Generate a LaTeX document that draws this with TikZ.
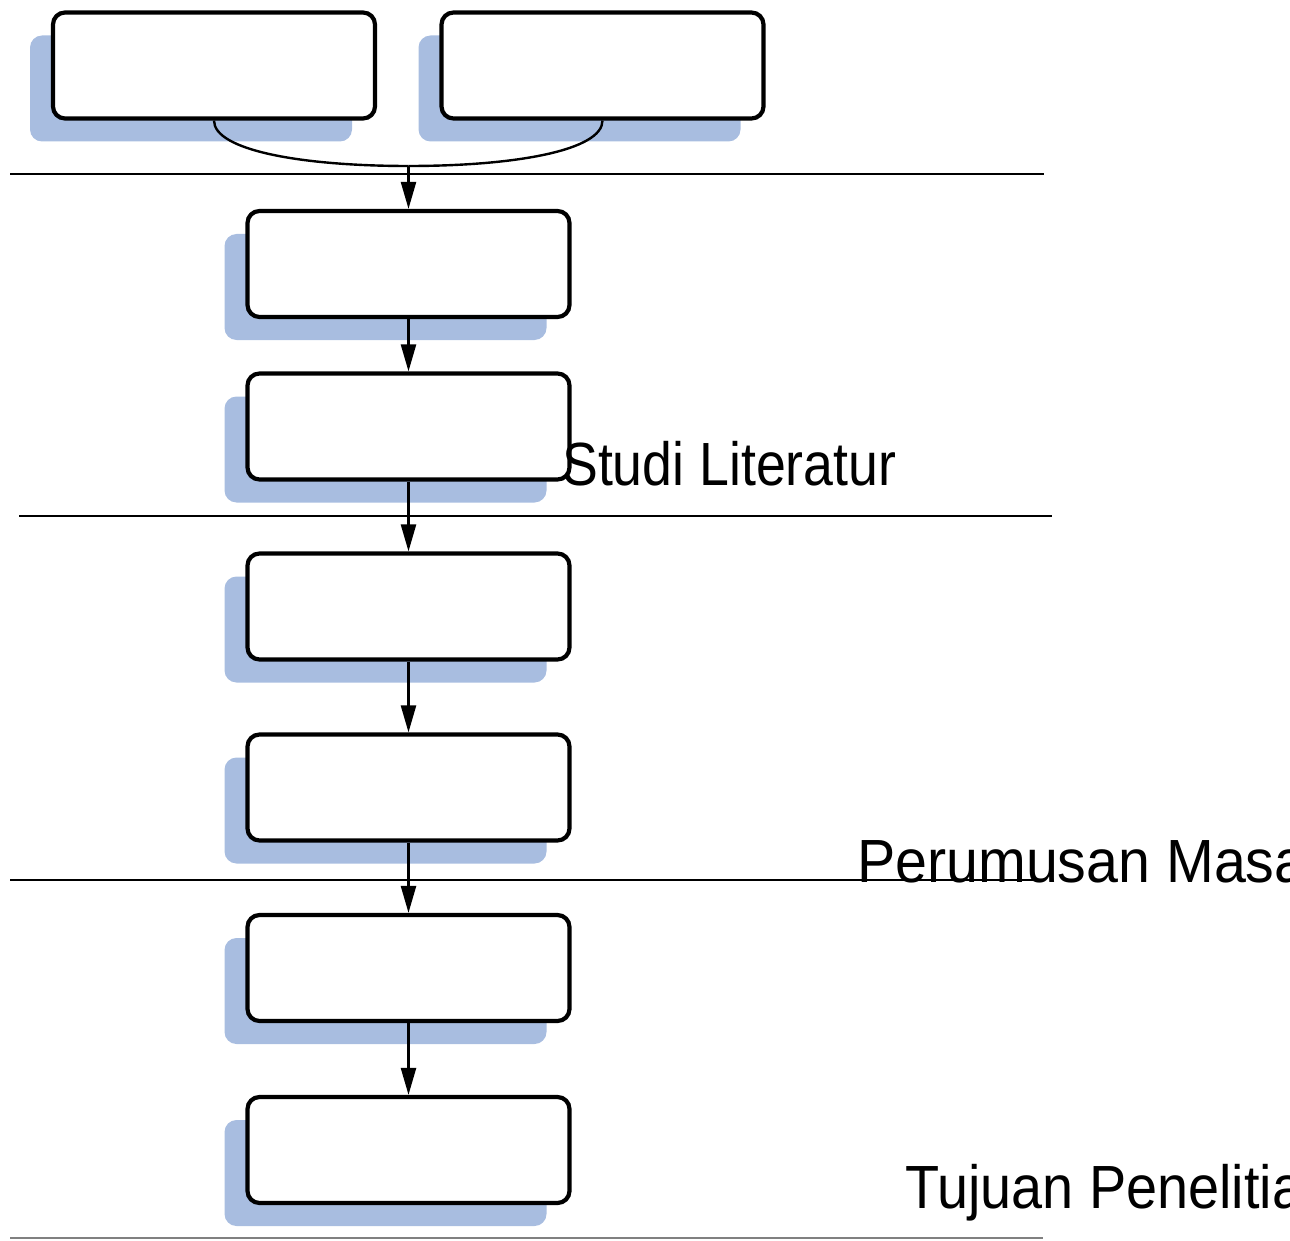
\documentclass[tikz,border=0pt]{standalone}
\usepackage{fontspec}
\setmainfont{Liberation Sans}
\usetikzlibrary{arrows.meta,shadows}
\definecolor{shadowblue}{RGB}{168,189,224}
\begin{document}
\begin{tikzpicture}[x=1pt,y=-1pt,
  box/.style={draw=black,line width=4.2pt,rounded corners=12pt,fill=white,
    minimum width=322pt,minimum height=106pt,inner sep=0pt,
    drop shadow={shadow xshift=-23pt,shadow yshift=-23pt,fill=shadowblue,opacity=1}},
  conn/.style={line width=2.4pt,-{Triangle[length=27pt,width=15pt]}},
  sep/.style={line width=2.2pt},
  lbl/.style={anchor=base west,inner sep=0pt,font=\fontsize{61}{61}\selectfont}]
\useasboundingbox (0,0) rectangle (1290,1241);
% separator lines
\draw[sep] (10,174) -- (1044,174);
\draw[sep] (19,516) -- (1052,516);
\draw[sep] (10,880) -- (1040,880);
\draw[line width=2.2pt,gray] (10,1238) -- (1043,1238);
% boxes
\node[box] (t1) at (214,65.5) {};
\node[box] (t2) at (602.5,65.5) {};
\node[box] (a) at (408.5,264) {};
\node[box] (b) at (408.5,426.5) {};
\node[box] (c) at (408.5,606.5) {};
\node[box] (d) at (408.5,787.5) {};
\node[box] (e) at (408.5,968) {};
\node[box] (f) at (408.5,1150) {};
% connectors
\coordinate (j) at (408.5,166);
\draw[line width=2.4pt] (t1.south) .. controls (214,150) and (300,166) .. (j);
\draw[line width=2.4pt] (t2.south) .. controls (602.5,150) and (517,166) .. (j);
\draw[conn] (j) -- (a.north);
\draw[conn] (a) -- (b);
\draw[conn] (b) -- (c);
\draw[conn] (c) -- (d);
\draw[conn] (d) -- (e);
\draw[conn] (e) -- (f);
% labels
\node[lbl] (l1) at (562,485) {\scalebox{0.88}[1]{Studi Literatur}};
\node[lbl] (l2) at (857,882) {\scalebox{0.94}[1]{Perumusan Masa}};
\node[lbl] (l3) at (905,1208) {\scalebox{0.915}[1]{Tujuan Penelitia}};
\end{tikzpicture}
\end{document}
